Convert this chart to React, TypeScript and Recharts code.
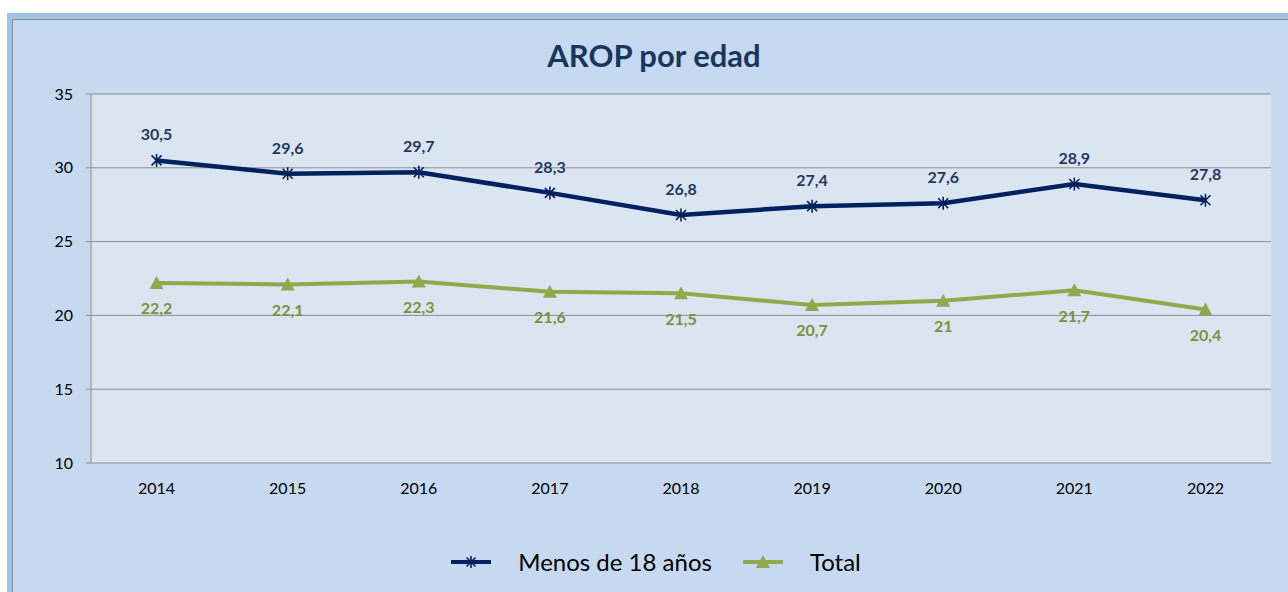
import React from 'react';
import { LineChart, Line, XAxis, YAxis, CartesianGrid, Legend, LabelList } from 'recharts';

const years = ['2014', '2015', '2016', '2017', '2018', '2019', '2020', '2021', '2022'];
const menos18 = [30.5, 29.6, 29.7, 28.3, 26.8, 27.4, 27.6, 28.9, 27.8];
const total = [22.2, 22.1, 22.3, 21.6, 21.5, 20.7, 21, 21.7, 20.4];
const yTicks = [10, 15, 20, 25, 30, 35];
const boundaryTicks = [0, 1, 2, 3, 4, 5, 6, 7, 8, 9];

const NAVY = '#002060';
const NAVY_LABEL = '#1f3864';
const GREEN = '#8eaa4d';
const GREEN_LABEL = '#77933c';
const FONT = 'Lato, "Open Sans", sans-serif';

const data = years.map((y, i) => ({ year: y, menos: menos18[i], total: total[i] }));

const fmt = (v: any) => String(v).replace('.', ',');

const StarDot = (props: any) => {
  const { cx, cy } = props;
  if (cx == null || cy == null) return null;
  const r = 6.5;
  const d = 5;
  return (
    <g stroke={NAVY} strokeWidth={1.6}>
      <line x1={cx} y1={cy - r} x2={cx} y2={cy + r} />
      <line x1={cx - d} y1={cy - d} x2={cx + d} y2={cy + d} />
      <line x1={cx - d} y1={cy + d} x2={cx + d} y2={cy - d} />
    </g>
  );
};

const TriDot = (props: any) => {
  const { cx, cy } = props;
  if (cx == null || cy == null) return null;
  return <path d={`M${cx},${cy - 7} L${cx + 7},${cy + 6} L${cx - 7},${cy + 6} Z`} fill={GREEN} />;
};

const LegendContent = (props: any) => {
  const { payload } = props;
  return (
    <div style={{ display: 'flex', justifyContent: 'center', alignItems: 'center', paddingLeft: 24, fontFamily: FONT, fontSize: 24, color: '#000' }}>
      {(payload || []).map((p: any, i: number) => (
        <div key={i} style={{ display: 'flex', alignItems: 'center', marginRight: i === 0 ? 31 : 0 }}>
          <svg width={40} height={20} style={{ display: 'block' }}>
            <line x1={1} y1={10} x2={39} y2={10} stroke={p.dataKey === 'menos' ? NAVY : GREEN} strokeWidth={4} strokeLinecap="round" />
            {p.dataKey === 'menos' ? (
              <g stroke={NAVY} strokeWidth={1.6}>
                <line x1={20} y1={4} x2={20} y2={16} />
                <line x1={15.5} y1={5.5} x2={24.5} y2={14.5} />
                <line x1={15.5} y1={14.5} x2={24.5} y2={5.5} />
              </g>
            ) : (
              <path d="M20,3 L27,16 L13,16 Z" fill={GREEN} />
            )}
          </svg>
          <span style={{ marginLeft: 27 }}>{p.value}</span>
        </div>
      ))}
    </div>
  );
};

export default function App() {
  return (
    <div style={{ position: 'absolute', left: 0, top: 0, width: 1288, height: 592, overflow: 'hidden', background: '#fff' }}>
      <div style={{ position: 'absolute', left: 7, top: 13, width: 1300, height: 600, background: '#9dc3e6' }} />
      <div style={{ position: 'absolute', left: 12, top: 19, width: 1300, height: 600, background: '#c6d9f0', borderTop: '1px solid #8c8c8c', borderLeft: '1px solid #8c8c8c' }} />
      <div style={{ position: 'absolute', left: 0, top: 37, width: 1308, textAlign: 'center', fontFamily: FONT, fontWeight: 700, fontSize: 31, color: '#17375e', lineHeight: '36px' }}>
        AROP por edad
      </div>
      <div style={{ position: 'absolute', left: 0, top: 0 }}>
        <LineChart width={1288} height={592} data={data} margin={{ top: 94, right: 17, left: 0, bottom: 99 }}>
          <CartesianGrid vertical={false} stroke="#8c8c8c" fill="#dbe5f1" />
          <XAxis
            xAxisId="bounds"
            type="number"
            domain={[0, 9]}
            ticks={boundaryTicks}
            height={0}
            tickSize={6}
            tickFormatter={() => ''}
            stroke="#8c8c8c"
            allowDataOverflow
          />
          <XAxis
            xAxisId="cat"
            dataKey="year"
            scale="band"
            height={30}
            axisLine={false}
            tickLine={false}
            tickMargin={14}
            tick={{ fill: '#000', fontSize: 16, fontFamily: FONT }}
          />
          <YAxis
            width={91}
            domain={[10, 35]}
            ticks={yTicks}
            tickSize={5}
            tickMargin={13}
            stroke="#8c8c8c"
            tick={{ fill: '#000', fontSize: 16, fontFamily: FONT }}
          />
          <Legend
            layout="horizontal"
            verticalAlign="middle"
            align="center"
            wrapperStyle={{ top: 547, left: 0, width: 1288 }}
            content={<LegendContent />}
          />
          <Line
            xAxisId="cat"
            dataKey="menos"
            name="Menos de 18 años"
            stroke={NAVY}
            strokeWidth={4.5}
            dot={<StarDot />}
            activeDot={false}
            isAnimationActive={false}
          >
            <LabelList dataKey="menos" position="top" offset={20} formatter={fmt} fill={NAVY_LABEL} fontSize={16} fontWeight={700} fontFamily={FONT} />
          </Line>
          <Line
            xAxisId="cat"
            dataKey="total"
            name="Total"
            stroke={GREEN}
            strokeWidth={4}
            dot={<TriDot />}
            activeDot={false}
            isAnimationActive={false}
          >
            <LabelList dataKey="total" position="bottom" offset={20} formatter={fmt} fill={GREEN_LABEL} fontSize={16} fontWeight={700} fontFamily={FONT} />
          </Line>
        </LineChart>
      </div>
    </div>
  );
}
